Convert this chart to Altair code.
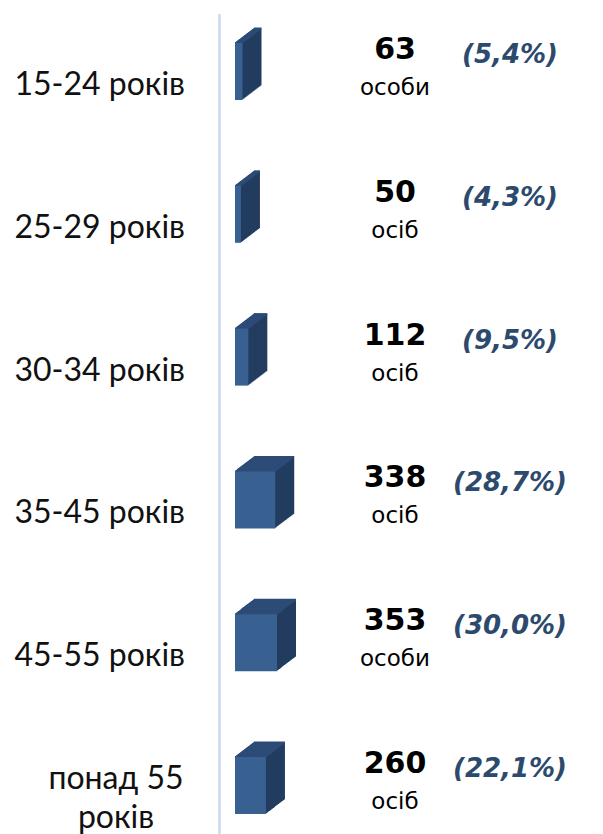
import altair as alt
import pandas as pd

categories = ["15-24 років", "25-29 років", "30-34 років", "35-45 років", "45-55 років", "понад 55 років"]
counts = [63, 50, 112, 338, 353, 260]
units = ["особи", "осіб", "осіб", "осіб", "особи", "осіб"]
percents = ["(5,4%)", "(4,3%)", "(9,5%)", "(28,7%)", "(30,0%)", "(22,1%)"]

df = pd.DataFrame({"cat": categories, "n": counts, "unit": units, "pct": percents})

FRONT = "#386192"
TOP = "#2D4B77"
SIDE = "#233D60"

DEPTH_X = 19
DEPTH_Y = 14.5
BAR_H = 57
BASE_OFF = -13.5

y_enc = alt.Y(
    "cat:N",
    sort=categories,
    scale=alt.Scale(range=[13.6, 870.4], paddingInner=0, paddingOuter=0),
    axis=alt.Axis(
        title=None,
        orient="left",
        offset=16,
        ticks=False,
        labels=False,
        domainColor="#C9D9EE",
        domainWidth=2.5,
    ),
)
x_enc = alt.X("n:Q", scale=alt.Scale(domain=[0, 3025], nice=False), axis=None)

base = alt.Chart(df)
layers = []

# side extrusion
for k in range(DEPTH_X, 0, -1):
    off_y = BASE_OFF - k * DEPTH_Y / DEPTH_X
    layers.append(
        base.mark_bar(size=BAR_H, color=SIDE, xOffset=k, x2Offset=k, yOffset=off_y, y2Offset=off_y)
        .encode(x=x_enc, y=y_enc)
    )
# top face
for k in range(0, DEPTH_X + 1):
    off_y = BASE_OFF - BAR_H / 2 - k * DEPTH_Y / DEPTH_X
    layers.append(
        base.mark_bar(size=2, color=TOP, xOffset=k, x2Offset=k, yOffset=off_y, y2Offset=off_y)
        .encode(x=x_enc, y=y_enc)
    )
# front face
layers.append(
    base.mark_bar(size=BAR_H, color=FRONT, yOffset=BASE_OFF, y2Offset=BASE_OFF)
    .encode(x=x_enc, y=y_enc)
)

# category labels
cat_single = base.transform_filter(
    "datum.cat != 'понад 55 років'"
).mark_text(
    font="Lato", fontSize=32, color="#111111", align="right", baseline="middle",
).encode(x=alt.value(-50), y=y_enc, text="cat:N")

cat_multi = base.transform_filter(
    "datum.cat == 'понад 55 років'"
).transform_calculate(
    lbl="['понад 55', 'років']"
).mark_text(
    font="Lato", fontSize=32, color="#111111", align="center", baseline="middle",
    lineHeight=39, dy=-20,
).encode(x=alt.value(-119), y=y_enc, text="lbl:N")

value_text = base.mark_text(
    font="DejaVu Sans", fontWeight="bold", fontSize=30, color="#000000",
    align="center", baseline="middle", dy=-35,
).encode(x=alt.value(160), y=y_enc, text="n:Q")

unit_text = base.mark_text(
    font="DejaVu Sans", fontSize=23, color="#000000",
    align="center", baseline="middle", dy=3,
).encode(x=alt.value(160), y=y_enc, text="unit:N")

pct_text = base.mark_text(
    font="DejaVu Sans", fontWeight="bold", fontStyle="italic", fontSize=26, color="#2C4A6E",
    align="center", baseline="middle", dy=-30,
).encode(x=alt.value(275), y=y_enc, text="pct:N")

chart = alt.layer(*layers, cat_single, cat_multi, value_text, unit_text, pct_text).properties(
    width=360,
    height=834,
    padding={"left": 235, "top": 0, "right": 8, "bottom": 0},
    autosize="none",
).configure(background="white").configure_view(strokeWidth=0, stroke="transparent")

chart.save("out.html", embed_options={"renderer": "svg", "actions": False})
